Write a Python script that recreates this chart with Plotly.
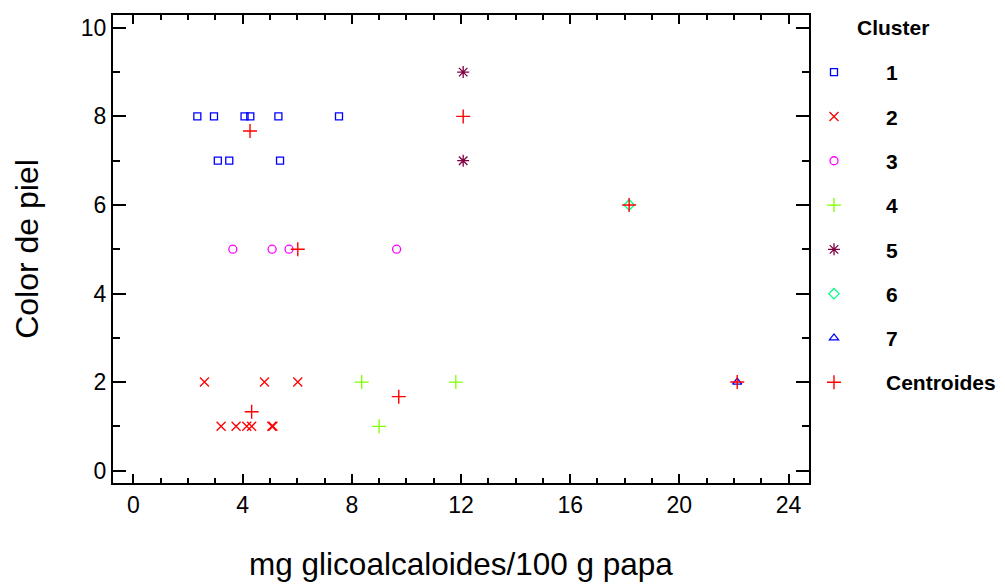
import plotly.graph_objects as go

# ---- data ----
c1_x = [2.34, 2.95, 4.07, 4.28, 5.31, 7.53, 3.09, 3.51, 5.37]
c1_y = [8, 8, 8, 8, 8, 8, 7, 7, 7]
c2_x = [2.60, 4.80, 6.02, 3.21, 3.76, 4.15, 4.33, 5.07, 5.11]
c2_y = [2, 2, 2, 1, 1, 1, 1, 1, 1]
c3_x = [3.64, 5.08, 5.70, 9.64]
c3_y = [5, 5, 5, 5]
c4_x = [8.36, 11.81, 9.00]
c4_y = [2, 2, 1]
c5_x = [12.08, 12.08]
c5_y = [9, 7]
c6_x = [18.16]
c6_y = [6]
c7_x = [22.12]
c7_y = [2]
cent_x = [4.27, 4.33, 6.02, 9.72, 12.08, 18.16, 22.12]
cent_y = [7.67, 1.33, 5.0, 1.67, 8.0, 6.0, 2.0]

cluster_names = ["1", "2", "3", "4", "5", "6", "7"]
x_ticks = [0, 4, 8, 12, 16, 20, 24]
y_ticks = [0, 2, 4, 6, 8, 10]

FONT = "Liberation Sans, Arial, sans-serif"

series = [
    (c1_x, c1_y, "square-open", "#0000ff", 7),
    (c2_x, c2_y, "x-thin-open", "#ff0000", 9),
    (c3_x, c3_y, "circle-open", "#ff00ff", 8),
    (c4_x, c4_y, "cross-thin-open", "#80ff00", 10),
    (c5_x, c5_y, "asterisk-open", "#800040", 10),
    (c6_x, c6_y, "diamond-open", "#00ff80", 8),
    (c7_x, c7_y, "triangle-up-open", "#0000ff", 8),
]

fig = go.Figure()
for name, (xs, ys, sym, col, sz) in zip(cluster_names, series):
    fig.add_trace(go.Scatter(
        x=xs, y=ys, mode="markers", name=name, legendgroup=name,
        marker=dict(symbol=sym, size=sz, color=col, line=dict(width=1.3, color=col)),
    ))
fig.add_trace(go.Scatter(
    x=cent_x, y=cent_y, mode="markers", name="Centroides", legendgroup="cent",
    marker=dict(symbol="cross-thin-open", size=10, color="#ff0000",
                line=dict(width=1.4, color="#ff0000")),
))

axis_common = dict(
    showline=True, linecolor="black", linewidth=2, mirror="allticks",
    ticks="inside", tickcolor="black", tickwidth=2,
    showgrid=False, zeroline=False, automargin=False,
    tickfont=dict(family=FONT, size=23, color="black"),
)

fig.update_xaxes(
    range=[-0.75, 24.75], tickvals=x_ticks, ticklen=9,
    minor=dict(dtick=1, tick0=0, ticklen=5, tickwidth=2, tickcolor="black", ticks="inside"),
    title=dict(text="mg glicoalcaloides/100 g papa",
               font=dict(family=FONT, size=31.5, color="black"), standoff=36),
    **axis_common,
)
fig.update_yaxes(
    range=[-0.28, 10.29], tickvals=y_ticks, ticklen=13,
    minor=dict(dtick=1, tick0=0, ticklen=7, tickwidth=2, tickcolor="black", ticks="inside"),
    title=dict(text="Color de piel",
               font=dict(family=FONT, size=32, color="black"), standoff=33),
    **axis_common,
)

PL, PR = 113, 809  # plot area in pixels (left/right)
fig.update_layout(
    width=1005, height=584,
    margin=dict(l=PL, r=1005 - PR, t=15, b=101, autoexpand=False),
    plot_bgcolor="white", paper_bgcolor="white",
    showlegend=True,
    legend=dict(
        xref="paper", yref="paper",
        x=(782 - PL) / (PR - PL), y=1 - (52 - 15) / 468, xanchor="left", yanchor="top",
        font=dict(family=FONT, size=21, color="black", weight="bold"),
        tracegroupgap=14, itemwidth=94,
        bgcolor="rgba(0,0,0,0)",
    ),
    annotations=[dict(
        text="Cluster", xref="paper", yref="y", x=(855 - PL) / (PR - PL), y=10,
        xanchor="left", yanchor="middle", showarrow=False,
        font=dict(family=FONT, size=21, color="black", weight="bold"),
    )],
)

fig.write_html("out.html", config={"displayModeBar": False},
               post_script="document.body.style.margin='0';")
